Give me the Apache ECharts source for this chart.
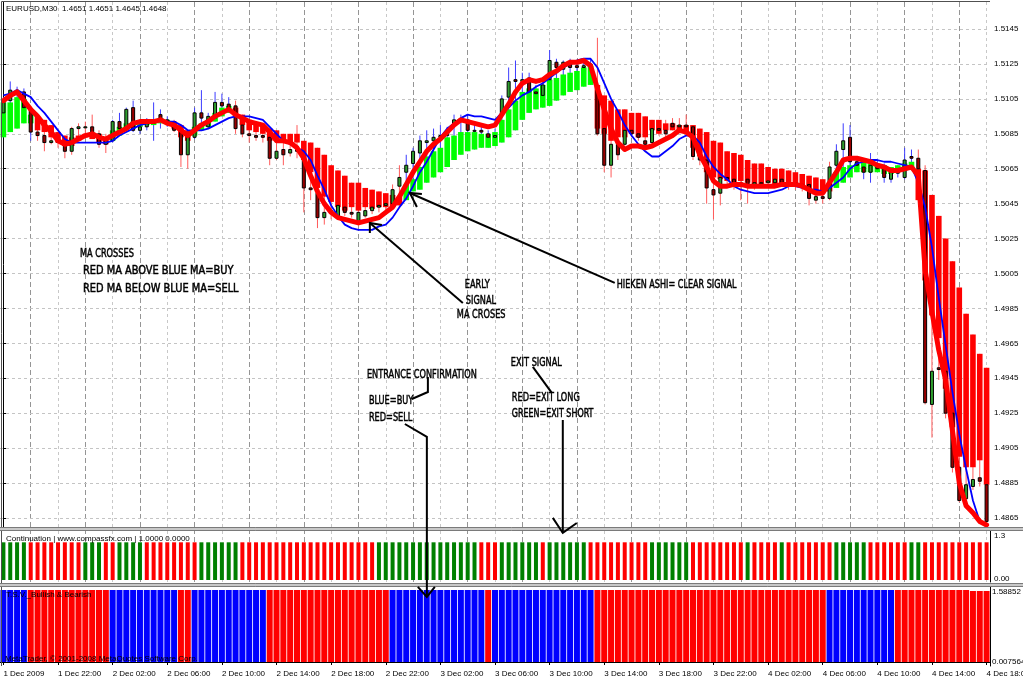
<!DOCTYPE html>
<html>
<head>
<meta charset="utf-8">
<script src="https://cdn.jsdelivr.net/npm/echarts@6.0.0/dist/echarts.min.js"></script>
<style>
html,body{margin:0;padding:0;background:#ffffff;}
#chart{width:1023px;height:682px;}
</style>
</head>
<body>
<div id="chart"></div>
<script>
// ---------------- DATA ----------------
const startTime = Date.UTC(2009, 11, 1, 18, 0); // first bar 1 Dec 2009 18:00, M30
const monthNames = ['Jan','Feb','Mar','Apr','May','Jun','Jul','Aug','Sep','Oct','Nov','Dec'];

const candleOpen = [
1.5097,1.5104,1.5110,1.5109,1.5099,1.5086,1.5084,1.5080,1.5081,1.5080,
1.5075,1.5088,1.5089,1.5089,1.5085,1.5079,1.5081,1.5092,1.5088,1.5100,
1.5087,1.5089,1.5091,1.5096,1.5093,1.5092,1.5087,1.5073,1.5083,1.5097,
1.5089,1.5094,1.5103,1.5102,1.5101,1.5090,1.5085,1.5084,1.5084,1.5083,
1.5071,1.5076,1.5074,1.5076,1.5070,1.5054,1.5051,1.5037,1.5040,1.5038,
1.5043,1.5040,1.5034,1.5038,1.5041,1.5043,1.5044,1.5045,1.5055,1.5063,
1.5068,1.5074,1.5080,1.5081,1.5083,1.5084,1.5090,1.5093,1.5093,1.5087,
1.5087,1.5085,1.5083,1.5096,1.5106,1.5116,1.5115,1.5117,1.5109,1.5107,
1.5116,1.5126,1.5122,1.5126,1.5124,1.5123,1.5124,1.5110,1.5088,1.5067,
1.5079,1.5079,1.5087,1.5085,1.5081,1.5080,1.5088,1.5087,1.5091,1.5089,
1.5090,1.5089,1.5072,1.5070,1.5053,1.5051,1.5060,1.5059,1.5057,1.5059,
1.5056,1.5057,1.5057,1.5057,1.5059,1.5057,1.5057,1.5056,1.5056,1.5047,
1.5049,1.5048,1.5067,1.5076,1.5083,1.5069,1.5066,1.5063,1.5067,1.5065,
1.5059,1.5063,1.5060,1.5072,1.5071,1.5064,1.4930,1.4951,1.4949,1.4925,
1.4894,1.4876,1.4883,1.4888,1.4884];

const candleClose = [
1.5104,1.5110,1.5109,1.5100,1.5086,1.5084,1.5080,1.5081,1.5080,1.5075,
1.5088,1.5089,1.5089,1.5085,1.5079,1.5081,1.5092,1.5088,1.5099,1.5087,
1.5089,1.5091,1.5093,1.5093,1.5092,1.5087,1.5073,1.5083,1.5097,1.5094,
1.5095,1.5103,1.5101,1.5100,1.5088,1.5085,1.5084,1.5083,1.5083,1.5071,
1.5075,1.5073,1.5076,1.5075,1.5054,1.5053,1.5037,1.5040,1.5041,1.5044,
1.5040,1.5039,1.5040,1.5041,1.5043,1.5044,1.5045,1.5053,1.5060,1.5067,
1.5075,1.5081,1.5081,1.5083,1.5084,1.5086,1.5093,1.5092,1.5087,1.5087,
1.5086,1.5083,1.5084,1.5105,1.5115,1.5115,1.5116,1.5109,1.5108,1.5113,
1.5127,1.5123,1.5126,1.5123,1.5123,1.5124,1.5125,1.5085,1.5067,1.5079,
1.5073,1.5087,1.5085,1.5083,1.5079,1.5088,1.5087,1.5085,1.5089,1.5090,
1.5089,1.5072,1.5070,1.5054,1.5050,1.5060,1.5059,1.5057,1.5056,1.5056,
1.5057,1.5057,1.5058,1.5059,1.5057,1.5057,1.5056,1.5056,1.5048,1.5049,
1.5048,1.5066,1.5075,1.5081,1.5069,1.5067,1.5063,1.5067,1.5065,1.5060,
1.5063,1.5063,1.5070,1.5071,1.5065,1.4931,1.4949,1.4950,1.4925,1.4894,
1.4875,1.4884,1.4887,1.4886,1.4863];

const candleHigh = [
1.5106,1.5115,1.5112,1.5111,1.5100,1.5097,1.5088,1.5085,1.5086,1.5083,
1.5089,1.5091,1.5092,1.5096,1.5087,1.5085,1.5093,1.5097,1.5100,1.5104,
1.5090,1.5094,1.5103,1.5099,1.5095,1.5093,1.5088,1.5084,1.5100,1.5110,
1.5097,1.5109,1.5108,1.5106,1.5104,1.5093,1.5090,1.5088,1.5087,1.5087,
1.5077,1.5079,1.5079,1.5090,1.5073,1.5061,1.5056,1.5044,1.5047,1.5048,
1.5047,1.5044,1.5043,1.5047,1.5047,1.5048,1.5050,1.5056,1.5067,1.5073,
1.5077,1.5084,1.5087,1.5088,1.5090,1.5089,1.5096,1.5096,1.5096,1.5090,
1.5090,1.5087,1.5088,1.5107,1.5123,1.5127,1.5120,1.5120,1.5113,1.5115,
1.5133,1.5128,1.5127,1.5128,1.5127,1.5128,1.5128,1.5140,1.5104,1.5081,
1.5099,1.5096,1.5093,1.5090,1.5087,1.5093,1.5092,1.5093,1.5094,1.5094,
1.5096,1.5090,1.5076,1.5071,1.5059,1.5061,1.5063,1.5062,1.5061,1.5061,
1.5061,1.5061,1.5060,1.5061,1.5061,1.5060,1.5060,1.5059,1.5057,1.5053,
1.5053,1.5069,1.5079,1.5091,1.5090,1.5071,1.5070,1.5074,1.5070,1.5068,
1.5065,1.5067,1.5077,1.5076,1.5076,1.5067,1.4953,1.4955,1.4951,1.4927,
1.4897,1.4892,1.4894,1.4894,1.4886];

const candleLow = [
1.5094,1.5103,1.5107,1.5099,1.5081,1.5081,1.5075,1.5079,1.5077,1.5071,
1.5073,1.5087,1.5087,1.5084,1.5077,1.5074,1.5080,1.5085,1.5086,1.5086,
1.5085,1.5087,1.5081,1.5088,1.5089,1.5086,1.5066,1.5065,1.5082,1.5093,
1.5088,1.5093,1.5100,1.5099,1.5085,1.5083,1.5080,1.5081,1.5080,1.5067,
1.5070,1.5067,1.5072,1.5071,1.5040,1.5047,1.5031,1.5033,1.5036,1.5037,
1.5038,1.5037,1.5032,1.5037,1.5039,1.5040,1.5041,1.5043,1.5053,1.5061,
1.5065,1.5072,1.5076,1.5075,1.5079,1.5067,1.5088,1.5087,1.5084,1.5085,
1.5084,1.5081,1.5080,1.5093,1.5104,1.5113,1.5111,1.5107,1.5106,1.5106,
1.5115,1.5120,1.5120,1.5122,1.5120,1.5120,1.5122,1.5084,1.5063,1.5060,
1.5070,1.5076,1.5083,1.5081,1.5076,1.5079,1.5084,1.5083,1.5087,1.5087,
1.5086,1.5070,1.5067,1.5045,1.5036,1.5044,1.5055,1.5053,1.5047,1.5045,
1.5053,1.5054,1.5054,1.5055,1.5055,1.5053,1.5053,1.5052,1.5044,1.5045,
1.5045,1.5047,1.5065,1.5075,1.5067,1.5064,1.5059,1.5057,1.5063,1.5057,
1.5057,1.5060,1.5059,1.5068,1.5059,1.4930,1.4911,1.4944,1.4922,1.4891,
1.4874,1.4872,1.4881,1.4883,1.4862];

const haOpen = [
1.5083,1.5086,1.5088,1.5091,1.5091,1.5095,1.5093,1.5090,1.5086,1.5084,
1.5083,1.5084,1.5085,1.5085,1.5085,1.5083,1.5081,1.5084,1.5087,1.5088,
1.5089,1.5090,1.5090,1.5091,1.5091,1.5092,1.5090,1.5087,1.5084,1.5087,
1.5089,1.5092,1.5095,1.5097,1.5100,1.5096,1.5093,1.5091,1.5090,1.5088,
1.5087,1.5085,1.5085,1.5085,1.5081,1.5080,1.5077,1.5073,1.5067,1.5064,
1.5061,1.5057,1.5057,1.5054,1.5053,1.5052,1.5051,1.5050,1.5049,1.5047,
1.5052,1.5053,1.5057,1.5060,1.5063,1.5066,1.5070,1.5073,1.5075,1.5076,
1.5077,1.5077,1.5078,1.5080,1.5083,1.5087,1.5093,1.5097,1.5099,1.5100,
1.5101,1.5104,1.5107,1.5109,1.5110,1.5112,1.5113,1.5113,1.5107,1.5104,
1.5099,1.5099,1.5097,1.5097,1.5095,1.5093,1.5093,1.5091,1.5091,1.5090,
1.5090,1.5090,1.5088,1.5086,1.5081,1.5080,1.5075,1.5074,1.5073,1.5070,
1.5068,1.5068,1.5066,1.5065,1.5065,1.5064,1.5063,1.5062,1.5061,1.5060,
1.5059,1.5057,1.5054,1.5057,1.5060,1.5063,1.5063,1.5063,1.5063,1.5062,
1.5062,1.5063,1.5064,1.5065,1.5065,1.5064,1.5050,1.5038,1.5025,1.5012,
1.4997,1.4982,1.4970,1.4959,1.4951];

const haClose = [
1.5103,1.5103,1.5106,1.5105,1.5096,1.5087,1.5086,1.5083,1.5080,1.5078,
1.5078,1.5081,1.5083,1.5082,1.5080,1.5079,1.5087,1.5089,1.5091,1.5092,
1.5092,1.5093,1.5093,1.5094,1.5093,1.5088,1.5083,1.5081,1.5089,1.5091,
1.5093,1.5097,1.5100,1.5101,1.5095,1.5090,1.5087,1.5086,1.5085,1.5081,
1.5081,1.5080,1.5080,1.5080,1.5070,1.5063,1.5054,1.5049,1.5046,1.5043,
1.5041,1.5043,1.5041,1.5043,1.5042,1.5043,1.5043,1.5043,1.5044,1.5056,
1.5059,1.5066,1.5072,1.5075,1.5077,1.5083,1.5084,1.5086,1.5086,1.5086,
1.5085,1.5085,1.5086,1.5093,1.5099,1.5104,1.5109,1.5111,1.5111,1.5113,
1.5116,1.5117,1.5119,1.5120,1.5121,1.5123,1.5124,1.5088,1.5085,1.5081,
1.5083,1.5083,1.5085,1.5083,1.5083,1.5087,1.5085,1.5087,1.5087,1.5086,
1.5086,1.5077,1.5072,1.5063,1.5060,1.5059,1.5058,1.5057,1.5058,1.5057,
1.5056,1.5056,1.5057,1.5056,1.5056,1.5055,1.5055,1.5054,1.5053,1.5052,
1.5051,1.5052,1.5063,1.5066,1.5067,1.5068,1.5069,1.5068,1.5067,1.5067,
1.5066,1.5067,1.5068,1.5069,1.5047,1.5001,1.4981,1.4968,1.4939,1.4917,
1.4900,1.4894,1.4894,1.4898,1.4884];

const maRed = [
1.5104,1.5107,1.5109,1.5104,1.5099,1.5095,1.5090,1.5086,1.5081,1.5079,
1.5080,1.5082,1.5084,1.5085,1.5083,1.5082,1.5084,1.5086,1.5088,1.5091,
1.5092,1.5092,1.5092,1.5093,1.5091,1.5090,1.5087,1.5084,1.5087,1.5090,
1.5092,1.5095,1.5097,1.5099,1.5096,1.5094,1.5092,1.5091,1.5090,1.5086,
1.5081,1.5081,1.5080,1.5077,1.5071,1.5061,1.5052,1.5045,1.5040,1.5037,
1.5036,1.5035,1.5034,1.5035,1.5036,1.5037,1.5040,1.5043,1.5049,1.5056,
1.5063,1.5069,1.5075,1.5079,1.5082,1.5086,1.5090,1.5093,1.5092,1.5091,
1.5090,1.5089,1.5090,1.5096,1.5102,1.5109,1.5114,1.5116,1.5115,1.5116,
1.5119,1.5121,1.5124,1.5126,1.5126,1.5127,1.5124,1.5111,1.5099,1.5088,
1.5080,1.5076,1.5078,1.5078,1.5077,1.5078,1.5080,1.5082,1.5084,1.5087,
1.5086,1.5083,1.5073,1.5066,1.5058,1.5055,1.5055,1.5056,1.5056,1.5055,
1.5055,1.5055,1.5055,1.5055,1.5056,1.5056,1.5056,1.5055,1.5053,1.5051,
1.5051,1.5057,1.5063,1.5070,1.5071,1.5071,1.5070,1.5069,1.5067,1.5066,
1.5064,1.5064,1.5065,1.5066,1.5061,1.5007,1.4983,1.4961,1.4944,1.4915,
1.4885,1.4872,1.4868,1.4863,1.4861];

const maBlue = [
1.5107,1.5108,1.5110,1.5108,1.5106,1.5101,1.5097,1.5092,1.5087,1.5082,
1.5080,1.5080,1.5080,1.5080,1.5080,1.5080,1.5081,1.5084,1.5086,1.5088,
1.5090,1.5091,1.5092,1.5093,1.5092,1.5092,1.5090,1.5087,1.5087,1.5087,
1.5088,1.5090,1.5092,1.5094,1.5095,1.5095,1.5095,1.5094,1.5093,1.5089,
1.5085,1.5081,1.5079,1.5077,1.5075,1.5070,1.5061,1.5053,1.5044,1.5038,
1.5033,1.5031,1.5030,1.5030,1.5030,1.5032,1.5033,1.5037,1.5043,1.5048,
1.5055,1.5063,1.5069,1.5076,1.5083,1.5088,1.5091,1.5094,1.5096,1.5095,
1.5095,1.5094,1.5093,1.5097,1.5100,1.5104,1.5107,1.5109,1.5112,1.5114,
1.5117,1.5120,1.5123,1.5125,1.5127,1.5128,1.5128,1.5123,1.5114,1.5105,
1.5098,1.5090,1.5084,1.5079,1.5075,1.5072,1.5072,1.5075,1.5078,1.5082,
1.5084,1.5084,1.5080,1.5072,1.5066,1.5062,1.5059,1.5055,1.5053,1.5052,
1.5051,1.5051,1.5051,1.5052,1.5053,1.5055,1.5055,1.5054,1.5053,1.5053,
1.5052,1.5054,1.5057,1.5060,1.5065,1.5068,1.5069,1.5070,1.5070,1.5069,
1.5069,1.5068,1.5067,1.5066,1.5057,1.5043,1.5020,1.4991,1.4964,1.4937,
1.4913,1.4893,1.4875,1.4863,1.4860];

// Continuation indicator: 1 = green bar, 0 = red bar (every bar is full height 1.0)
const contSignal = [
1,1,1,1,0,0,0,0,0,0, 0,0,1,1,1,0,0,1,1,1, 1,0,0,0,0,0,0,0,0,1, 1,1,1,1,1,0,0,0,0,0,
0,0,0,0,0,0,0,0,0,0, 0,0,0,0,0,1,1,1,1,1, 1,1,1,1,1,1,1,1,1,1, 0,0,0,1,1,1,1,1,1,0,
1,1,1,1,1,1,0,0,0,0, 0,0,0,0,0,1,1,1,1,1, 1,0,0,0,0,0,0,0,0,1, 0,0,0,0,1,0,0,0,0,0,
0,0,1,1,1,1,1,0,0,0, 0,0,0,1,1,0,0,0,0,0, 0,0,0,0,0];
const contLevel = [
1,1,1,1,1,1,1,1,1,1, 1,1,1,1,1,1,1,1,1,1, 1,1,1,1,1,1,1,1,1,1, 1,1,1,1,1,1,1,1,1,1,
1,1,1,1,1,1,1,1,1,1, 1,1,1,1,1,1,1,1,1,1, 1,1,1,1,1,1,1,1,1,1, 1,1,1,1,1,1,1,1,1,1,
1,1,1,1,1,1,1,1,1,1, 1,1,1,1,1,1,1,1,1,1, 1,1,1,1,1,1,1,1,1,1, 1,1,1,1,1,1,1,1,1,1,
1,1,1,1,1,1,1,1,1,1, 1,1,1,1,1,1,1,1,1,1, 1,1,1,1,1];

// T.S.V. Bullish & Bearish: 1 = blue (bullish), 0 = red (bearish)
const tsvSignal = [
1,1,1,1,0,0,0,0,0,0, 0,0,0,0,0,0,1,1,1,1, 1,1,1,1,1,1,0,0,1,1, 1,1,1,1,1,1,1,1,1,0,
0,0,0,0,0,0,0,0,0,0, 0,0,0,0,0,0,0,1,1,1, 1,1,1,1,1,1,1,1,1,1, 1,0,1,1,1,1,1,1,1,1,
1,1,1,1,1,1,1,0,0,0, 0,0,0,0,0,0,0,0,0,0, 0,0,0,0,0,0,0,0,0,0, 0,0,0,0,0,0,0,0,0,0,
0,1,1,1,1,1,1,1,1,1, 1,0,0,0,0,0,0,0,0,0, 0,0,0,0,0];
const tsvLevel = [
1.58852,1.58852,1.58852,1.58852,1.58852,1.58852,1.58852,1.58852,1.58852,1.58852,
1.58852,1.58852,1.58852,1.58852,1.58852,1.58852,1.58852,1.58852,1.58852,1.58852,
1.58852,1.58852,1.58852,1.58852,1.58852,1.58852,1.58852,1.58852,1.58852,1.58852,
1.58852,1.58852,1.58852,1.58852,1.58852,1.58852,1.58852,1.58852,1.58852,1.58852,
1.58852,1.58852,1.58852,1.58852,1.58852,1.58852,1.58852,1.58852,1.58852,1.58852,
1.58852,1.58852,1.58852,1.58852,1.58852,1.58852,1.58852,1.58852,1.58852,1.58852,
1.58852,1.58852,1.58852,1.58852,1.58852,1.58852,1.58852,1.58852,1.58852,1.58852,
1.58852,1.58852,1.58852,1.58852,1.58852,1.58852,1.58852,1.58852,1.58852,1.58852,
1.58852,1.58852,1.58852,1.58852,1.58852,1.58852,1.58852,1.58852,1.58852,1.58852,
1.58852,1.58852,1.58852,1.58852,1.58852,1.58852,1.58852,1.58852,1.58852,1.58852,
1.58852,1.58852,1.58852,1.58852,1.58852,1.58852,1.58852,1.58852,1.58852,1.58852,
1.58852,1.58852,1.58852,1.58852,1.58852,1.58852,1.58852,1.58852,1.58852,1.58852,
1.58852,1.58852,1.58852,1.58852,1.58852,1.58852,1.58852,1.58852,1.58852,1.58852,
1.58852,1.58852,1.58852,1.58852,1.58852,1.58852,1.58852,1.58852,1.58852,1.58852,
1.58852,1.58852,1.5665,1.5665,1.5665];

// Tick labels
const priceTicks = [1.4865,1.4885,1.4905,1.4925,1.4945,1.4965,1.4985,1.5005,1.5025,1.5045,1.5065,1.5085,1.5105,1.5125,1.5145];
const contAxisText = ['1.3', '0.00'];
const tsvAxisText = ['1.58852', '0.007564'];

// Texts
const chartTitle = 'EURUSD,M30  1.4651 1.4651 1.4645 1.4648';
const contTitle = 'Continuation | www.compassfx.com | 1.0000 0.0000';
const tsvTitle = 'T.S.V._Bullish & Bearish';
const copyrightText = 'MetaTrader, \u00A9 2001-2008 MetaQuotes Software Corp.';

// Hand-written annotations, anchored in chart coordinates [bar index, price]
const notes = [
  {text:'MA CROSSES', at:[11.21, 1.50162], sx:0.70},
  {text:'RED MA ABOVE BLUE MA=BUY', at:[11.65, 1.50064], sx:0.84},
  {text:'RED MA BELOW BLUE MA=SELL', at:[11.65, 1.49961], sx:0.84},
  {text:'EARLY', at:[67.58, 1.49984], sx:0.70},
  {text:'SIGNAL', at:[67.73, 1.49893], sx:0.70},
  {text:'MA CROSES', at:[66.41, 1.49812], sx:0.70},
  {text:'HIEKEN ASHI= CLEAR SIGNAL', at:[89.84, 1.49984], sx:0.69},
  {text:'ENTRANCE CONFIRMATION', at:[53.24, 1.49469], sx:0.70},
  {text:'BLUE=BUY', at:[53.53, 1.49320], sx:0.70},
  {text:'RED=SELL', at:[53.53, 1.49223], sx:0.70},
  {text:'EXIT SIGNAL', at:[74.32, 1.49538], sx:0.70},
  {text:'RED=EXIT LONG', at:[74.46, 1.49337], sx:0.70},
  {text:'GREEN=EXIT SHORT', at:[74.46, 1.49245], sx:0.68}
];
const arrows = [
  {pts:[[67.29,1.49881],[53.67,1.50339]], head:[[53.67,1.50282],[53.67,1.50339],[55.43,1.50328]]},
  {pts:[[89.54,1.49996],[59.53,1.50511]], head:[[61.29,1.50505],[59.53,1.50511],[60.56,1.50431]]},
  {pts:[[62.17,1.49457],[62.17,1.49371],[59.82,1.49331]]},
  {pts:[[58.80,1.49188],[62.02,1.49114],[62.02,1.48198]], head:[[60.70,1.48255],[62.02,1.48198],[63.19,1.48255]]},
  {pts:[[77.54,1.49515],[80.32,1.49366]]},
  {pts:[[81.93,1.49211],[81.93,1.48564]], head:[[80.47,1.48650],[81.93,1.48564],[83.98,1.48621]]}
];

// ---------------- LAYOUT / STYLE ----------------
const W = 1023, H = 682;
const plotRight = 990;
const FONT = '"Liberation Sans", Arial, sans-serif';
const NOTE_FONT = '13px "Liberation Sans Narrow", "DejaVu Sans Condensed", "Liberation Sans", sans-serif';
const colors = {
  haBull:'#00ff00', haBear:'#ff0000', haWickBull:'#3c3cff', haWickBear:'#ff5a5a',
  candleBull:'#2e9e2e', candleBear:'#990000',
  maRed:'#ff0000', maBlue:'#0000ff',
  contGreen:'#008000', contRed:'#ff0000', tsvBlue:'#0000ff', tsvRed:'#ff0000'
};

const N = candleOpen.length;
const categories = candleOpen.map((_, i) => {
  const d = new Date(startTime + i * 30 * 60000);
  const hh = String(d.getUTCHours()).padStart(2, '0');
  const mm = String(d.getUTCMinutes()).padStart(2, '0');
  return d.getUTCDate() + ' ' + monthNames[d.getUTCMonth()] + ' ' + hh + ':' + mm;
});

const haData = candleOpen.map((_, i) => [
  i, haOpen[i], haClose[i],
  Math.min(candleLow[i], haOpen[i], haClose[i]),
  Math.max(candleHigh[i], haOpen[i], haClose[i])
]);
const candleData = candleOpen.map((_, i) => [i, candleOpen[i], candleClose[i], candleLow[i], candleHigh[i]]);

function renderHA(params, api) {
  const i = api.value(0), o = api.value(1), c = api.value(2), lo = api.value(3), hi = api.value(4);
  const pO = api.coord([i, o]), pC = api.coord([i, c]);
  const pL = api.coord([i, lo]), pH = api.coord([i, hi]);
  const bull = c >= o;
  const w = 5.6;
  const top = Math.min(pO[1], pC[1]);
  const h = Math.max(Math.abs(pO[1] - pC[1]), 1);
  return {type:'group', children:[
    {type:'line', shape:{x1:pH[0], y1:pH[1], x2:pL[0], y2:pL[1]}, style:{stroke: bull ? colors.haWickBull : colors.haWickBear, lineWidth:1}},
    {type:'rect', shape:{x:pO[0] - w / 2, y:top, width:w, height:h}, style:{fill: bull ? colors.haBull : colors.haBear}}
  ]};
}
function renderCandle(params, api) {
  const i = api.value(0), o = api.value(1), c = api.value(2);
  const pO = api.coord([i, o]), pC = api.coord([i, c]);
  const w = 3;
  const top = Math.min(pO[1], pC[1]);
  const h = Math.max(Math.abs(pO[1] - pC[1]), 1);
  return {type:'rect', shape:{x:pO[0] - w / 2, y:top, width:w, height:h},
          style:{fill: c >= o ? colors.candleBull : colors.candleBear, stroke:'#000', lineWidth:1}};
}

const vMainLines = [];
for (let i = 4; i < N; i += 4) {
  const dark = (i % 8 === 4);
  vMainLines.push({xAxis:i, lineStyle:{color: dark ? '#959595' : '#c8c8c8', width:1, type: dark ? [5,3] : [3,3]}});
}
const hMainLines = priceTicks.map(p => ({yAxis:p, lineStyle:{color:'#c4c4c4', width:1, type:[3,3]}}));

const markBase = {silent:true, symbol:['none','none'], label:{show:false}, animation:false, precision:6, z:1};

const option = {
  animation:false,
  backgroundColor:'#ffffff',
  textStyle:{fontFamily:FONT},
  grid:[
    {left:0, top:2, width:plotRight, height:525, outerBoundsMode:'none'},
    {left:0, top:531, width:plotRight, height:51, outerBoundsMode:'none'},
    {left:0, top:587, width:plotRight, height:79, outerBoundsMode:'none'}
  ],
  xAxis:[
    {type:'category', gridIndex:0, data:categories, boundaryGap:true, show:false},
    {type:'value', gridIndex:0, min:-0.5, max:N - 0.5, show:false},
    {type:'category', gridIndex:1, data:categories, boundaryGap:true, show:false},
    {type:'category', gridIndex:2, data:categories, boundaryGap:true,
     axisLine:{show:true, lineStyle:{color:'#000', width:1}},
     axisTick:{show:true, interval:7, alignWithLabel:true, length:3, lineStyle:{color:'#000'}},
     axisLabel:{show:true, interval:7, align:'left', margin:4, fontSize:8, color:'#000', fontFamily:FONT,
                hideOverlap:false, showMinLabel:true, showMaxLabel:true,
                formatter:(v, idx) => idx === 0 ? '1 Dec 2009' : v},
     splitLine:{show:false}}
  ],
  yAxis:[
    {type:'value', gridIndex:0, position:'right', min:1.48598, max:1.51605,
     splitLine:{show:false},
     axisLine:{show:true, lineStyle:{color:'#000'}},
     axisTick:{show:true, customValues:priceTicks, length:3, lineStyle:{color:'#000'}},
     axisLabel:{show:true, customValues:priceTicks, margin:4, fontSize:8, color:'#000', fontFamily:FONT,
                formatter:v => v.toFixed(4)}},
    {type:'value', gridIndex:1, position:'right', min:-0.053, max:1.3,
     splitLine:{show:false},
     axisLine:{show:true, lineStyle:{color:'#000'}},
     axisTick:{show:false},
     axisLabel:{show:true, customValues:[1.16, 0.03], margin:4, fontSize:8, color:'#000', fontFamily:FONT,
                formatter:v => v > 0.5 ? contAxisText[0] : contAxisText[1]}},
    {type:'value', gridIndex:2, position:'right', min:-0.0882, max:1.6547,
     splitLine:{show:false},
     axisLine:{show:true, lineStyle:{color:'#000'}},
     axisTick:{show:false},
     axisLabel:{show:true, customValues:[1.5444, 0], margin:2, fontSize:8, color:'#000', fontFamily:FONT,
                formatter:v => v > 0.5 ? tsvAxisText[0] : tsvAxisText[1]}}
  ],
  series:[
    {name:'grid-main', type:'line', xAxisIndex:0, yAxisIndex:0, data:[], z:1, silent:true,
     markLine:Object.assign({}, markBase, {data: vMainLines.concat(hMainLines)})},
    {name:'Heiken Ashi', type:'custom', xAxisIndex:0, yAxisIndex:0, data:haData, z:2, silent:true,
     encode:{x:0, y:[1,2,3,4]}, renderItem:renderHA, clip:true},
    {name:'EURUSD', type:'custom', xAxisIndex:0, yAxisIndex:0, data:candleData, z:3, silent:true,
     encode:{x:0, y:[1,2,3,4]}, renderItem:renderCandle, clip:true},
    {name:'MA blue', type:'line', xAxisIndex:0, yAxisIndex:0, data:maBlue, z:4, silent:true,
     showSymbol:false, symbol:'none', lineStyle:{color:colors.maBlue, width:1.8}},
    {name:'MA red', type:'line', xAxisIndex:0, yAxisIndex:0, data:maRed, z:5, silent:true,
     showSymbol:false, symbol:'none', lineStyle:{color:colors.maRed, width:5, cap:'round', join:'round'}},
    {name:'grid-cont', type:'line', xAxisIndex:2, yAxisIndex:1, data:[], z:1, silent:true,
     markLine:Object.assign({}, markBase, {data: vMainLines})},
    {name:'Continuation', type:'bar', xAxisIndex:2, yAxisIndex:1, barWidth:4, z:2, silent:true,
     data: contLevel.map((v, i) => ({value:v, itemStyle:{color: contSignal[i] ? colors.contGreen : colors.contRed}}))},
    {name:'T.S.V.', type:'bar', xAxisIndex:3, yAxisIndex:2, barWidth:6, z:2, silent:true,
     data: tsvLevel.map((v, i) => ({value:v, itemStyle:{color: tsvSignal[i] ? colors.tsvBlue : colors.tsvRed}}))}
  ]
};

const chart = echarts.init(document.getElementById('chart'), null, {width:W, height:H, renderer:'canvas'});
chart.setOption(option);

// ---------- decorations and annotations ----------
const toX = v => chart.convertToPixel({xAxisIndex:1}, v);
const toY = v => chart.convertToPixel({yAxisIndex:0}, v);
const toPt = p => [toX(p[0]), toY(p[1])];

const graphics = [];
// frame + panel separators
graphics.push({type:'line', shape:{x1:1.5, y1:1.5, x2:plotRight, y2:1.5}, style:{stroke:'#505050', lineWidth:1}, z:50});
graphics.push({type:'line', shape:{x1:1.5, y1:1.5, x2:1.5, y2:666}, style:{stroke:'#505050', lineWidth:1}, z:50});
[527, 583].forEach(y => {
  graphics.push({type:'rect', shape:{x:0, y:y, width:W, height:4}, style:{fill:'#c8c8c8'}, z:50});
  graphics.push({type:'line', shape:{x1:0, y1:y + 0.5, x2:W, y2:y + 0.5}, style:{stroke:'#7a7a7a', lineWidth:1}, z:51});
  graphics.push({type:'line', shape:{x1:0, y1:y + 3.5, x2:W, y2:y + 3.5}, style:{stroke:'#7a7a7a', lineWidth:1}, z:51});
});
// panel titles
const smallFont = '8px ' + FONT;
[[chartTitle, 6, 9], [contTitle, 6, 538.5], [tsvTitle, 6, 595], [copyrightText, 5, 659]].forEach(t => {
  graphics.push({type:'text', x:t[1], y:t[2], style:{text:t[0], font:smallFont, fill:'#000', align:'left', verticalAlign:'middle'}, z:60});
});
// annotations
notes.forEach(n => {
  const p = toPt(n.at);
  graphics.push({type:'text', x:p[0], y:p[1], scaleX:n.sx, style:{text:n.text, font:NOTE_FONT, fill:'#000', stroke:'#000', lineWidth:0.5, align:'left', verticalAlign:'middle'}, z:70});
});
arrows.forEach(a => {
  graphics.push({type:'polyline', shape:{points:a.pts.map(toPt)}, style:{stroke:'#000', lineWidth:2, fill:null}, z:70});
  if (a.head) graphics.push({type:'polyline', shape:{points:a.head.map(toPt)}, style:{stroke:'#000', lineWidth:2, fill:null}, z:70});
});
chart.setOption({graphic:graphics});
</script>
</body>
</html>
